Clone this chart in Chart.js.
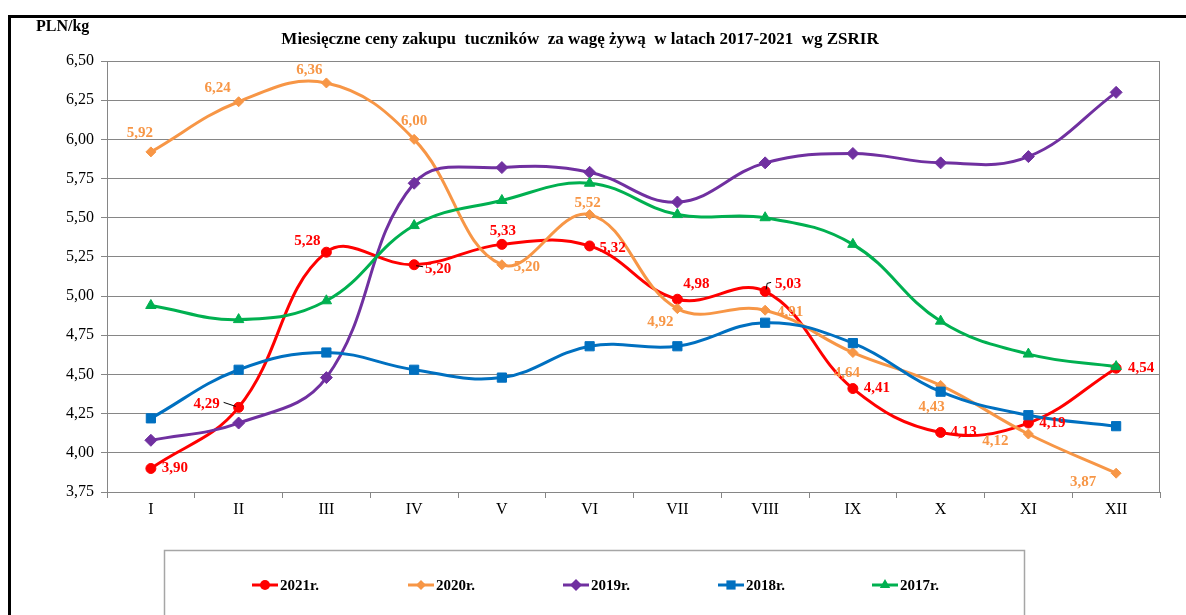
<!DOCTYPE html>
<html>
<head>
<meta charset="utf-8">
<script src="https://cdn.jsdelivr.net/npm/chart.js@4.4.1/dist/chart.umd.min.js"></script>
<style>
  html, body { margin: 0; padding: 0; background: #fff; }
  #wrap { position: relative; width: 1186px; height: 615px; }
</style>
</head>
<body>
<div id="wrap"><canvas id="chart" width="1186" height="615"></canvas></div>
<script>
// data
const months = ['I', 'II', 'III', 'IV', 'V', 'VI', 'VII', 'VIII', 'IX', 'X', 'XI', 'XII'];
const years = ['2021r.', '2020r.', '2019r.', '2018r.', '2017r.'];
const y2021 = [3.90, 4.29, 5.28, 5.20, 5.33, 5.32, 4.98, 5.03, 4.41, 4.13, 4.19, 4.54];
const y2020 = [5.92, 6.24, 6.36, 6.00, 5.20, 5.52, 4.92, 4.91, 4.64, 4.43, 4.12, 3.87];
const y2019 = [4.08, 4.19, 4.48, 5.72, 5.82, 5.79, 5.60, 5.85, 5.91, 5.85, 5.89, 6.30];
const y2018 = [4.22, 4.53, 4.64, 4.53, 4.48, 4.68, 4.68, 4.83, 4.70, 4.39, 4.24, 4.17];
const y2017 = [4.94, 4.85, 4.97, 5.45, 5.61, 5.72, 5.52, 5.50, 5.33, 4.84, 4.63, 4.55];
const yMin = 3.75, yMax = 6.5, yStep = 0.25;

const title = 'Miesięczne ceny zakupu  tuczników  za wagę żywą  w latach 2017-2021  wg ZSRIR';
const unit = 'PLN/kg';

// look
const colors = ['#FF0000', '#F79646', '#7030A0', '#0070C0', '#00B050'];
const markers = ['circle', 'rectRot', 'rectRot', 'rect', 'triangle'];
const markerR = [5, 5, 6, 6.5, 6];
const serif = '"Liberation Serif", "Times New Roman", serif';

// label offsets from the point [dx, dy]
const lab2021 = [[24, 0], [-32, -3], [-19, -11], [24, 4], [1, -13], [23, 2], [19, -15], [23, -7], [24, 0], [23, 0], [24, 0], [25, 0]];
const lab2020 = [[-11, -19], [-21, -14], [-17, -13], [0, -18], [25, 2], [-2, -11], [-17, 13], [25, 2], [-6, 21], [-9, 22], [-33, 7], [-33, 9]];
const leaders = [
  { ds: 0, i: 1, pts: [[-15, -5], [-3, -1]] },
  { ds: 0, i: 3, pts: [[2, 1], [9, 2]] },
  { ds: 0, i: 7, pts: [[1, -2], [2, -8], [6, -9]] }
];
const legendX = [252, 408, 563, 718, 872];
const legendY = 585;

function drawMarker(ctx, style, x, y, r, color) {
  ctx.fillStyle = color;
  ctx.beginPath();
  if (style === 'circle') {
    ctx.arc(x, y, r, 0, Math.PI * 2);
  } else if (style === 'rectRot') {
    ctx.moveTo(x, y - r); ctx.lineTo(x + r, y); ctx.lineTo(x, y + r); ctx.lineTo(x - r, y);
  } else if (style === 'rect') {
    const s = r * Math.SQRT1_2;
    ctx.rect(x - s, y - s, 2 * s, 2 * s);
  } else {
    ctx.moveTo(x, y - r);
    ctx.lineTo(x + r * 0.866, y + r * 0.5);
    ctx.lineTo(x - r * 0.866, y + r * 0.5);
  }
  ctx.closePath();
  ctx.fill();
}

const decor = {
  id: 'decor',
  afterDraw(chart) {
    const ctx = chart.ctx;
    const a = chart.chartArea;
    ctx.save();

    // plot frame (right side)
    ctx.strokeStyle = '#868686';
    ctx.lineWidth = 1;
    ctx.beginPath();
    ctx.moveTo(Math.round(a.right) - 0.5, a.top);
    ctx.lineTo(Math.round(a.right) - 0.5, a.bottom);
    ctx.stroke();

    // outer black frame
    ctx.strokeStyle = '#000';
    ctx.lineWidth = 3;
    ctx.beginPath();
    ctx.moveTo(9.5, 615);
    ctx.lineTo(9.5, 16.5);
    ctx.lineTo(1186, 16.5);
    ctx.stroke();

    // title + unit
    ctx.fillStyle = '#000';
    ctx.textBaseline = 'middle';
    ctx.font = 'bold 17px ' + serif;
    ctx.textAlign = 'center';
    ctx.fillText(title, 580, 40);
    ctx.font = 'bold 16px ' + serif;
    ctx.textAlign = 'left';
    ctx.fillText(unit, 36, 27);

    // leader lines
    ctx.strokeStyle = '#000';
    ctx.lineWidth = 1;
    leaders.forEach(l => {
      const p = chart.getDatasetMeta(l.ds).data[l.i];
      ctx.beginPath();
      l.pts.forEach((q, k) => {
        if (k === 0) ctx.moveTo(p.x + q[0], p.y + q[1]);
        else ctx.lineTo(p.x + q[0], p.y + q[1]);
      });
      ctx.stroke();
    });

    // data labels
    ctx.font = 'bold 15px ' + serif;
    ctx.textAlign = 'center';
    [[0, lab2021], [1, lab2020]].forEach(([ds, offs]) => {
      const meta = chart.getDatasetMeta(ds);
      const vals = chart.data.datasets[ds].data;
      ctx.fillStyle = colors[ds];
      meta.data.forEach((p, i) => {
        ctx.fillText(vals[i].toFixed(2).replace('.', ','), p.x + offs[i][0], p.y + offs[i][1]);
      });
    });

    // legend
    ctx.strokeStyle = '#A6A6A6';
    ctx.lineWidth = 1.5;
    ctx.strokeRect(164.5, 550.5, 860, 100);
    ctx.font = 'bold 15px ' + serif;
    ctx.textAlign = 'left';
    chart.data.datasets.forEach((d, i) => {
      const x = legendX[i];
      ctx.strokeStyle = colors[i];
      ctx.lineWidth = 3;
      ctx.beginPath();
      ctx.moveTo(x, legendY);
      ctx.lineTo(x + 26, legendY);
      ctx.stroke();
      drawMarker(ctx, markers[i], x + 13, legendY, markerR[i], colors[i]);
      ctx.fillStyle = '#000';
      ctx.fillText(d.label, x + 28, legendY + 1);
    });

    ctx.restore();
  }
};

const series = [y2021, y2020, y2019, y2018, y2017];

new Chart(document.getElementById('chart'), {
  type: 'line',
  data: {
    labels: months,
    datasets: series.map((s, i) => ({
      label: years[i],
      data: s,
      borderColor: colors[i],
      backgroundColor: colors[i],
      pointBorderColor: colors[i],
      pointBackgroundColor: colors[i],
      pointStyle: markers[i],
      pointRadius: markerR[i],
      pointBorderWidth: 1,
      borderWidth: 3,
      tension: 0.4,
      fill: false,
      order: 4 - i
    }))
  },
  options: {
    responsive: false,
    animation: false,
    devicePixelRatio: 1,
    layout: { padding: { left: 0, right: 26, top: 61, bottom: 0 } },
    plugins: {
      legend: { display: false },
      tooltip: { enabled: false }
    },
    scales: {
      x: {
        offset: true,
        grid: { offset: true, drawOnChartArea: false, drawTicks: true, tickLength: 6, color: '#868686' },
        border: { color: '#868686' },
        ticks: { color: '#000', padding: 2, font: { family: serif, size: 16 } },
        afterFit(scale) { scale.height = 123; }
      },
      y: {
        min: yMin,
        max: yMax,
        grid: { color: '#868686', tickLength: 6 },
        border: { color: '#868686' },
        ticks: {
          stepSize: yStep,
          color: '#000',
          padding: 7,
          font: { family: serif, size: 16 },
          callback: v => v.toFixed(2).replace('.', ',')
        },
        afterFit(scale) { scale.width = 107; }
      }
    }
  },
  plugins: [decor]
});
</script>
</body>
</html>
